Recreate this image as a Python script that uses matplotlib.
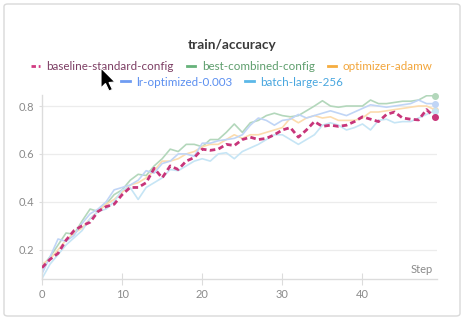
import matplotlib
matplotlib.use('Agg')
import matplotlib.pyplot as plt
from matplotlib.patches import FancyBboxPatch, Polygon
from matplotlib.lines import Line2D

plt.rcParams['font.family'] = ['Lato', 'DejaVu Sans']

steps = list(range(50))

baseline = [0.125, 0.16, 0.185, 0.24, 0.28, 0.30, 0.315, 0.36, 0.38, 0.39,
            0.43, 0.46, 0.46, 0.48, 0.54, 0.50, 0.55, 0.535, 0.57, 0.585,
            0.62, 0.615, 0.62, 0.64, 0.635, 0.66, 0.67, 0.66, 0.665, 0.68,
            0.70, 0.71, 0.67, 0.70, 0.735, 0.715, 0.72, 0.715, 0.72, 0.735,
            0.755, 0.745, 0.735, 0.765, 0.775, 0.75, 0.745, 0.742, 0.785, 0.753]
best_combined = [0.13, 0.17, 0.22, 0.27, 0.265, 0.32, 0.37, 0.36, 0.39, 0.43,
                 0.45, 0.49, 0.515, 0.51, 0.55, 0.58, 0.62, 0.61, 0.64, 0.64,
                 0.63, 0.66, 0.66, 0.69, 0.725, 0.69, 0.73, 0.74, 0.76, 0.77,
                 0.76, 0.755, 0.76, 0.78, 0.80, 0.822, 0.80, 0.795, 0.80, 0.80,
                 0.80, 0.825, 0.81, 0.81, 0.815, 0.82, 0.82, 0.825, 0.843, 0.843]
optimizer_adamw = [0.14, 0.16, 0.20, 0.24, 0.27, 0.29, 0.33, 0.36, 0.39, 0.41,
                   0.44, 0.47, 0.48, 0.50, 0.53, 0.57, 0.57, 0.58, 0.60, 0.61,
                   0.63, 0.64, 0.64, 0.66, 0.68, 0.665, 0.68, 0.68, 0.69, 0.70,
                   0.71, 0.75, 0.73, 0.75, 0.76, 0.75, 0.755, 0.74, 0.74, 0.74,
                   0.75, 0.775, 0.775, 0.78, 0.785, 0.79, 0.795, 0.80, 0.80, 0.785]
lr_optimized = [0.10, 0.17, 0.245, 0.235, 0.26, 0.31, 0.35, 0.37, 0.40, 0.45,
                0.46, 0.47, 0.49, 0.53, 0.52, 0.56, 0.57, 0.60, 0.60, 0.59,
                0.645, 0.645, 0.655, 0.66, 0.665, 0.68, 0.72, 0.75, 0.74, 0.72,
                0.74, 0.745, 0.765, 0.75, 0.76, 0.77, 0.78, 0.77, 0.76, 0.775,
                0.79, 0.805, 0.80, 0.795, 0.80, 0.805, 0.81, 0.825, 0.81, 0.81]
batch_large = [0.08, 0.14, 0.18, 0.22, 0.25, 0.28, 0.33, 0.36, 0.37, 0.40,
               0.45, 0.46, 0.41, 0.46, 0.48, 0.50, 0.535, 0.53, 0.55, 0.57,
               0.58, 0.57, 0.60, 0.605, 0.58, 0.61, 0.625, 0.64, 0.66, 0.68,
               0.68, 0.66, 0.64, 0.66, 0.68, 0.72, 0.73, 0.72, 0.70, 0.71,
               0.725, 0.70, 0.74, 0.745, 0.73, 0.735, 0.735, 0.75, 0.765, 0.78]

names = ['baseline-standard-config', 'best-combined-config', 'optimizer-adamw',
         'lr-optimized-0.003', 'batch-large-256']
line_colors = ['#c8357a', '#b3d7bb', '#fcdcae', '#c0d5f6', '#c6e5f5']
text_colors = ['#7c3d63', '#5e9e6d', '#f2a53a', '#5b8ff0', '#48a6df']
legend_colors = ['#d13b82', '#66b27a', '#f6ad3f', '#6f9cf2', '#5cb8e8']

fig = plt.figure(figsize=(4.65, 3.24), dpi=100)

# card frame
card = FancyBboxPatch((4/465, 8/324), 456/465, 312/324,
                      boxstyle='round,pad=0,rounding_size=0.008',
                      transform=fig.transFigure, facecolor='white',
                      edgecolor='#d9d9d9', linewidth=1.0, zorder=-10)
fig.patches.append(card)

ax = fig.add_axes([42/465, 45/324, 395/465, 184/324])
ax.set_facecolor('none')

series = [baseline, best_combined, optimizer_adamw, lr_optimized, batch_large]
for i in [1, 2, 3, 4]:
    ax.plot(steps, series[i], color=line_colors[i], lw=1.2, zorder=2)
    ax.plot(steps[-1], series[i][-1], 'o', color=line_colors[i], ms=4, zorder=3,
            clip_on=False)
ax.plot(steps, baseline, color=line_colors[0], lw=2, ls=(0, (2, 1.2)), zorder=4)
ax.plot(steps[-1], baseline[-1], 'o', color=line_colors[0], ms=4, zorder=5,
        clip_on=False)

ax.set_xlim(0, 49.3)
ax.set_ylim(0.078, 0.846)
ax.set_yticks([0.2, 0.4, 0.6, 0.8])
ax.set_xticks([0, 10, 20, 30, 40])
ax.yaxis.grid(True, color='#ececec', lw=0.9)
ax.set_axisbelow(True)
for s in ['top', 'right']:
    ax.spines[s].set_visible(False)
for s in ['left', 'bottom']:
    ax.spines[s].set_color('#dcdcdc')
    ax.spines[s].set_linewidth(1.0)
ax.tick_params(axis='x', direction='inout', length=9, width=0.8, color='#dcdcdc',
               labelcolor='#8a8a8a', labelsize=8, pad=3)
ax.tick_params(axis='y', direction='out', length=2.5, width=0.8, color='#dcdcdc',
               labelcolor='#8a8a8a', labelsize=8, pad=3)
ax.text(0.99, 0.02, 'Step', transform=ax.transAxes, ha='right', va='bottom',
        fontsize=8, color='#8a8a8a')

fig.text(232/465, 1 - 45/324, 'train/accuracy', ha='center', va='center',
         fontsize=9.8, fontweight='bold', color='#3a3a3a')

def legend_row(idx, y):
    handles = []
    for i in idx:
        ls = (0, (1.6, 1.0)) if i == 0 else '-'
        handles.append(Line2D([], [], color=legend_colors[i], lw=2, ls=ls))
    lg = fig.legend(handles, [names[i] for i in idx], loc='center',
                    bbox_to_anchor=(232/465, 1 - y/324), ncol=len(idx),
                    frameon=False, fontsize=8.4, handlelength=0.75,
                    handletextpad=0.55, columnspacing=1.1, borderpad=0,
                    labelcolor=[text_colors[i] for i in idx])
    return lg

legend_row([0, 1, 2], 67)
legend_row([3, 4], 82)

# mouse pointer
px, py = 101, 68
pts = [(0, 0), (0, 20), (4.5, 15.5), (8, 23), (11.5, 21.5), (8, 14.5), (14, 14)]
cursor = Polygon([((px + a)/465, 1 - (py + b)/324) for a, b in pts],
                 closed=True, transform=fig.transFigure, facecolor='black',
                 edgecolor='white', linewidth=0.8, zorder=10)
fig.patches.append(cursor)

fig.savefig('out.png', dpi=100)
